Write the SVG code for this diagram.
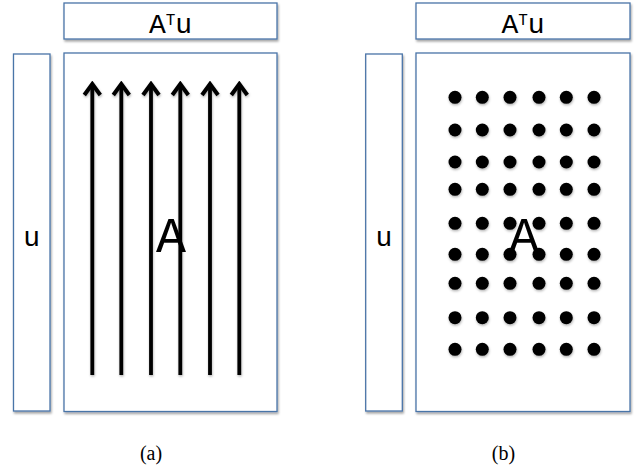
<svg xmlns="http://www.w3.org/2000/svg" width="634" height="469" viewBox="0 0 634 469">
<defs>
<filter id="sh" x="-10%" y="-10%" width="130%" height="130%">
<feDropShadow dx="1" dy="2" stdDeviation="1.2" flood-color="#000" flood-opacity="0.35"/>
</filter>
<filter id="dsh" x="-50%" y="-50%" width="200%" height="200%">
<feDropShadow dx="0.5" dy="1.5" stdDeviation="1" flood-color="#000" flood-opacity="0.3"/>
</filter>
<marker id="head" viewBox="0 0 16 20" refX="13" refY="10" markerWidth="16" markerHeight="20" markerUnits="userSpaceOnUse" orient="auto">
<path d="M2,2 L13,10 L2,18" fill="none" stroke="#000" stroke-width="4"/>
</marker>
<style>
.box { fill: #ffffff; stroke: #4a74a8; stroke-width: 1.3; }
</style>
</defs>
<!-- panel (a) -->
<g id="a-atu">
<rect class="box" x="64" y="3" width="213" height="36" fill="#fff" stroke="#4a74a8" stroke-width="1.3" filter="url(#sh)"/>
<text x="170.5" y="33" font-family="'Courier New', 'Liberation Mono', monospace" font-size="28" text-anchor="middle" fill="#000">A<tspan font-size="16" dy="-8">T</tspan><tspan dy="8">u</tspan></text>
</g>
<g id="a-u">
<rect class="box" x="13.5" y="54" width="36.5" height="357" fill="#fff" stroke="#4a74a8" stroke-width="1.3" filter="url(#sh)"/>
<text x="31.75" y="246" font-family="'Courier New', 'Liberation Mono', monospace" font-size="28" text-anchor="middle" fill="#000">u</text>
</g>
<g id="a-A">
<rect class="box" x="64" y="53" width="213" height="358.5" fill="#fff" stroke="#4a74a8" stroke-width="1.3" filter="url(#sh)"/>
</g>
<g id="connectors" stroke="#000" stroke-width="3.8" fill="none" filter="url(#dsh)">
<line x1="92.3" y1="375" x2="92.3" y2="84" marker-end="url(#head)"/>
<line x1="121.3" y1="375" x2="121.3" y2="84" marker-end="url(#head)"/>
<line x1="151" y1="375" x2="151" y2="84" marker-end="url(#head)"/>
<line x1="180.3" y1="375" x2="180.3" y2="84" marker-end="url(#head)"/>
<line x1="210" y1="375" x2="210" y2="84" marker-end="url(#head)"/>
<line x1="239.3" y1="375" x2="239.3" y2="84" marker-end="url(#head)"/>
</g>
<g id="a-A-label">
<text x="171" y="252" font-family="'Courier New', 'Liberation Mono', monospace" font-size="50" text-anchor="middle" fill="#000">A</text>
</g>
<text x="151" y="460" font-family="'Liberation Serif', 'Times New Roman', serif" font-size="20" text-anchor="middle" fill="#000">(a)</text>
<!-- panel (b) -->
<g id="b-atu">
<rect class="box" x="416" y="3" width="214" height="36" fill="#fff" stroke="#4a74a8" stroke-width="1.3" filter="url(#sh)"/>
<text x="523" y="33" font-family="'Courier New', 'Liberation Mono', monospace" font-size="28" text-anchor="middle" fill="#000">A<tspan font-size="16" dy="-8">T</tspan><tspan dy="8">u</tspan></text>
</g>
<g id="b-u">
<rect class="box" x="365.7" y="54" width="36.6" height="357" fill="#fff" stroke="#4a74a8" stroke-width="1.3" filter="url(#sh)"/>
<text x="384" y="246" font-family="'Courier New', 'Liberation Mono', monospace" font-size="28" text-anchor="middle" fill="#000">u</text>
</g>
<g id="b-A">
<rect class="box" x="416" y="53" width="214" height="358.5" fill="#fff" stroke="#4a74a8" stroke-width="1.3" filter="url(#sh)"/>
<g filter="url(#dsh)" fill="#000">
<g id="dots-row">
<circle cx="455" cy="97.3" r="6.5"/><circle cx="482.3" cy="97.3" r="6.5"/><circle cx="510" cy="97.3" r="6.5"/><circle cx="539" cy="97.3" r="6.5"/><circle cx="566.3" cy="97.3" r="6.5"/><circle cx="594" cy="97.3" r="6.5"/>
</g>
<use href="#dots-row" y="32.7"/>
<use href="#dots-row" y="64.7"/>
<use href="#dots-row" y="92"/>
<use href="#dots-row" y="126"/>
<use href="#dots-row" y="157"/>
<use href="#dots-row" y="186"/>
<use href="#dots-row" y="220.4"/>
<use href="#dots-row" y="252"/>
</g>
<text x="524" y="252" font-family="'Courier New', 'Liberation Mono', monospace" font-size="50" text-anchor="middle" fill="#000">A</text>
</g>
<text x="503.5" y="460" font-family="'Liberation Serif', 'Times New Roman', serif" font-size="20" text-anchor="middle" fill="#000">(b)</text>
</svg>
